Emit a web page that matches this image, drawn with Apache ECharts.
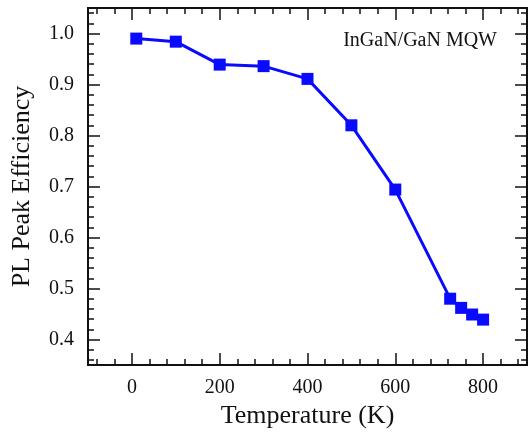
<!DOCTYPE html>
<html>
<head>
<meta charset="utf-8">
<script src="https://cdn.jsdelivr.net/npm/echarts@6/dist/echarts.min.js"></script>
<style>
  html, body { margin: 0; padding: 0; background: #fff; }
  #chart { width: 530px; height: 434px; }
</style>
</head>
<body>
<div id="chart"></div>
<script>
// Measured PL peak efficiency vs. temperature
const temperatures = [10, 100, 200, 300, 400, 500, 600, 725, 750, 775, 800];
const efficiency   = [0.990, 0.984, 0.939, 0.936, 0.911, 0.820, 0.694, 0.480, 0.462, 0.449, 0.439];

// Axis tick positions
const xMajorTicks = [0, 200, 400, 600, 800];
const xMinorTicks = [-80, -40, 40, 80, 120, 160, 240, 280, 320, 360, 440, 480, 520, 560, 640, 680, 720, 760, 840, 880];
const yMajorTicks = [0.4, 0.5, 0.6, 0.7, 0.8, 0.9, 1.0];
const yMinorTicks = [0.36, 0.38, 0.42, 0.44, 0.46, 0.48, 0.52, 0.54, 0.56, 0.58,
                     0.62, 0.64, 0.66, 0.68, 0.72, 0.74, 0.76, 0.78, 0.82, 0.84,
                     0.86, 0.88, 0.92, 0.94, 0.96, 0.98, 1.02, 1.04];

const X_MIN = -100, X_MAX = 900;
const Y_MIN = 0.35, Y_MAX = 1.05;
const FONT = '"Liberation Serif", "Times New Roman", serif';
const INK = '#111';

function xAx(pos, ticks, len, withLabel, extra) {
  return Object.assign({
    type: 'value', position: pos, min: X_MIN, max: X_MAX,
    axisLine: { show: true, onZero: false, lineStyle: { color: INK, width: 2 } },
    axisTick: { show: true, inside: true, length: len, customValues: ticks, lineStyle: { color: INK, width: 1.5 } },
    axisLabel: withLabel
      ? { show: true, customValues: xMajorTicks, margin: 13, fontSize: 20, fontFamily: FONT, color: INK }
      : { show: false },
    splitLine: { show: false }
  }, extra || {});
}

function yAx(pos, ticks, len, withLabel, extra) {
  return Object.assign({
    type: 'value', position: pos, min: Y_MIN, max: Y_MAX,
    axisLine: { show: true, onZero: false, lineStyle: { color: INK, width: 2 } },
    axisTick: { show: true, inside: true, length: len, customValues: ticks, lineStyle: { color: INK, width: 1.5 } },
    axisLabel: withLabel
      ? { show: true, customValues: yMajorTicks, margin: 14, fontSize: 20, fontFamily: FONT, color: INK,
          formatter: v => v.toFixed(1) }
      : { show: false },
    splitLine: { show: false }
  }, extra || {});
}

const chart = echarts.init(document.getElementById('chart'), null, { renderer: 'canvas' });

chart.setOption({
  animation: false,
  backgroundColor: '#fff',
  grid: { left: 88, top: 8, width: 439, height: 358, containLabel: false },
  xAxis: [
    xAx('bottom', xMajorTicks, 12, true, {
      name: 'Temperature (K)', nameLocation: 'middle', nameGap: 38,
      nameTextStyle: { fontSize: 26, fontFamily: FONT, color: INK }
    }),
    xAx('bottom', xMinorTicks, 6, false),
    xAx('top', xMajorTicks, 12, false),
    xAx('top', xMinorTicks, 6, false)
  ],
  yAxis: [
    yAx('left', yMajorTicks, 12, true, {
      name: 'PL Peak Efficiency', nameLocation: 'middle', nameGap: 53, nameRotate: 90,
      nameTextStyle: { fontSize: 26, fontFamily: FONT, color: INK }
    }),
    yAx('left', yMinorTicks, 6, false),
    yAx('right', yMajorTicks, 12, false),
    yAx('right', yMinorTicks, 6, false)
  ],
  graphic: [{
    type: 'text', right: 33, top: 31,
    style: { text: 'InGaN/GaN MQW', font: '20px ' + FONT, fill: INK }
  }],
  series: [{
    type: 'line',
    xAxisIndex: 0, yAxisIndex: 0,
    data: temperatures.map((t, i) => [t, efficiency[i]]),
    symbol: 'rect', symbolSize: 12,
    lineStyle: { color: '#0a0aff', width: 3 },
    itemStyle: { color: '#0a0aff' }
  }]
});
</script>
</body>
</html>
